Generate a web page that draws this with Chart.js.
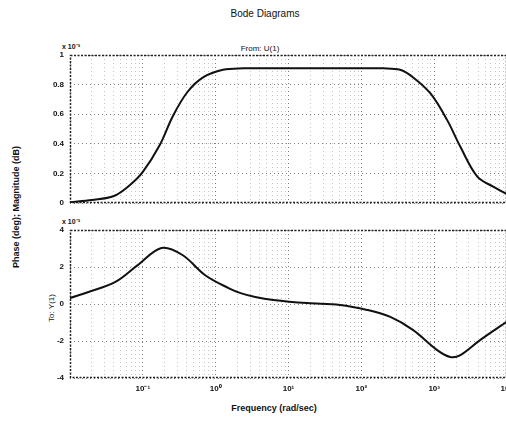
<!DOCTYPE html>
<html><head><meta charset="utf-8">
<script src="https://cdn.jsdelivr.net/npm/chart.js@4/dist/chart.umd.min.js"></script>
<style>
html,body{margin:0;padding:0;background:#fff;overflow:hidden;width:506px;height:425px;position:relative}
.t{position:absolute;font-family:"Liberation Sans",Arial,sans-serif;color:#111;white-space:nowrap;transform:translate(-50%,-50%)}
.r{transform:translate(-50%,-50%) rotate(-90deg)}
canvas{position:absolute;left:0}
</style></head><body>
<div class="t" style="left:265px;top:13px;font-size:10px;">Bode Diagrams</div>
<div class="t" style="left:260px;top:48px;font-size:8px;">From: U(1)</div>
<div class="t" style="left:71px;top:46px;font-size:7px;font-weight:bold;">x 10⁻³</div>
<div class="t" style="left:71px;top:221px;font-size:7px;font-weight:bold;">x 10⁻³</div>
<div class="t r" style="left:16px;top:207px;font-size:9px;font-weight:bold;">Phase (deg); Magnitude (dB)</div>
<div class="t r" style="left:51px;top:308px;font-size:8px;">To: Y(1)</div>
<div class="t" style="left:274px;top:408px;font-size:9px;font-weight:bold;">Frequency (rad/sec)</div>
<canvas id="top" width="530" height="215" style="top:0"></canvas>
<canvas id="bot" width="530" height="210" style="top:215px"></canvas>
<script>
// Frequencies in rad/sec
const magFreq = [0.01, 0.02, 0.04, 0.066, 0.1, 0.17, 0.26, 0.41, 0.68, 1.26, 2.4, 5, 10, 32, 100, 200, 340, 510, 890, 1510, 2290, 3890, 6460, 10000];
// Magnitude values (x 10^-3)
const magValues = [0.005, 0.02, 0.047, 0.12, 0.21, 0.39, 0.59, 0.75, 0.85, 0.90, 0.91, 0.91, 0.91, 0.91, 0.91, 0.91, 0.90, 0.85, 0.74, 0.56, 0.38, 0.18, 0.11, 0.06];
const phaseFreq = [0.01, 0.018, 0.042, 0.085, 0.18, 0.35, 0.71, 1.5, 2.2, 3.5, 6.2, 18, 51, 120, 250, 510, 1100, 1660, 2290, 4270, 10000];
// Phase values (x 10^-3)
const phaseValues = [0.32, 0.65, 1.19, 2.1, 3.03, 2.65, 1.57, 0.86, 0.59, 0.38, 0.22, 0.05, -0.05, -0.32, -0.7, -1.4, -2.49, -2.86, -2.76, -1.95, -0.95];
const decades = [0.01, 0.1, 1, 10, 100, 1000, 10000];
const decadeLabels = ['', '10⁻¹', '10⁰', '10¹', '10²', '10³', '10⁴'];
const magTicks = [0, 0.2, 0.4, 0.6, 0.8, 1];
const magTickLabels = ['0', '0.2', '0.4', '0.6', '0.8', '1'];
const phaseTicks = [-4, -2, 0, 2, 4];
const phaseTickLabels = ['-4', '-2', '0', '2', '4'];

const gridVals = [];
decades.forEach((d, i) => {
  if (i === decades.length - 1) { gridVals.push(d); return; }
  for (let k = 1; k < 10; k++) gridVals.push(d * k);
});

const tickFont = {family: '"Liberation Sans", Arial, sans-serif', size: 8, weight: 'bold'};

const frame = {
  id: 'frame',
  afterDatasetsDraw(c) {
    const {ctx, chartArea: a} = c;
    ctx.save();
    ctx.strokeStyle = '#222';
    ctx.lineWidth = 1.5;
    ctx.setLineDash([2, 1.5]);
    ctx.strokeRect(a.left + 0.5, a.top + 0.5, a.right - a.left - 1, a.bottom - a.top - 1);
    ctx.restore();
  }
};

function xScale(showLabels, h) {
  return {
    type: 'logarithmic', min: 0.01, max: 10000,
    afterBuildTicks(s) { s.ticks = gridVals.map(v => ({value: v})); },
    afterFit(s) { s.height = h; },
    ticks: {
      display: showLabels, autoSkip: false, maxRotation: 0, padding: 6,
      font: tickFont, color: '#111',
      callback(v) { const i = decades.findIndex(d => Math.abs(d - v) / d < 1e-6); return i >= 0 ? decadeLabels[i] : ''; }
    },
    grid: {
      drawTicks: false,
      color(ctx) {
        const v = ctx.tick ? ctx.tick.value : 0;
        const isDec = decades.some(d => Math.abs(d - v) / d < 1e-6);
        return isDec ? 'rgba(90,90,90,0.8)' : 'rgba(150,150,150,0.55)';
      },
      lineWidth: 1
    },
    border: {display: false, dash: [1, 3]}
  };
}

function yScale(ticks, labels, min, max) {
  return {
    min, max,
    afterBuildTicks(s) { s.ticks = ticks.map(v => ({value: v})); },
    afterFit(s) { s.width = 70; },
    ticks: {
      padding: 6, font: tickFont, color: '#111',
      callback(v) { const i = ticks.indexOf(v); return i >= 0 ? labels[i] : ''; }
    },
    grid: {drawTicks: false, color: 'rgba(90,90,90,0.75)'},
    border: {display: false, dash: [1, 3]}
  };
}

function makeChart(id, freq, vals, yCfg, xCfg, padding) {
  return new Chart(document.getElementById(id), {
    type: 'line',
    data: {datasets: [{
      data: freq.map((f, i) => ({x: f, y: vals[i]})),
      borderColor: '#111', borderWidth: 2, pointRadius: 0,
      tension: 0.35, fill: false
    }]},
    options: {
      responsive: false, animation: false, devicePixelRatio: 1,
      layout: {padding},
      plugins: {legend: {display: false}, tooltip: {enabled: false}, title: {display: false}},
      scales: {x: xCfg, y: yCfg}
    },
    plugins: [frame]
  });
}

makeChart('top', magFreq, magValues, yScale(magTicks, magTickLabels, 0, 1), xScale(false, 0), {top: 55, bottom: 12, left: 0, right: 23});
makeChart('bot', phaseFreq, phaseValues, yScale(phaseTicks, phaseTickLabels, -4, 4), xScale(true, 22), {top: 15, bottom: 25, left: 0, right: 23});
</script>
</body></html>
